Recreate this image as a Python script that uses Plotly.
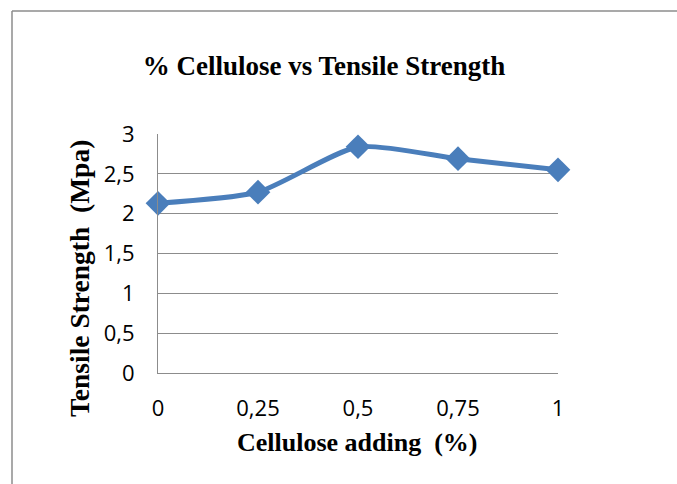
import plotly.graph_objects as go

cellulose = [0, 0.25, 0.5, 0.75, 1]
tensile = [2.13, 2.27, 2.84, 2.69, 2.55]
x_tickvals = [0, 0.25, 0.5, 0.75, 1]
x_ticktext = ["0", "0,25", "0,5", "0,75", "1"]
y_tickvals = [0, 0.5, 1, 1.5, 2, 2.5, 3]
y_ticktext = ["0", "0,5", "1", "1,5", "2", "2,5", "3"]

line_color = "#4A7EBB"

fig = go.Figure()
fig.add_trace(go.Scatter(
    x=cellulose, y=tensile, mode="lines+markers",
    line=dict(color=line_color, width=5, shape="spline", smoothing=0.6),
    marker=dict(symbol="diamond", size=19, color=line_color),
    cliponaxis=False, showlegend=False,
))

W, H = 677, 484
L, R, T, B = 158, 558, 134, 373
pw, ph = R - L, B - T

def px(xp):
    return (xp - L) / pw

def py(yp):
    return (B - yp) / ph

fig.update_layout(
    width=W, height=H,
    margin=dict(l=L, r=W - R, t=T, b=H - B, pad=0),
    paper_bgcolor="white", plot_bgcolor="white",
    title=dict(text="<b>% Cellulose vs Tensile Strength</b>",
               x=324 / W, xanchor="center", y=1 - 66 / H, yanchor="middle",
               font=dict(family="Liberation Serif", size=27, color="black")),
    xaxis=dict(range=[0, 1], tickvals=x_tickvals, ticktext=x_ticktext,
               showgrid=False, zeroline=False, showline=True, linecolor="#8c8c8c", linewidth=1,
               ticks="outside", ticklen=16, tickcolor="rgba(0,0,0,0)",
               tickfont=dict(family="Open Sans", size=22, color="black")),
    yaxis=dict(range=[0, 3], tickvals=y_tickvals, ticktext=y_ticktext,
               showgrid=True, gridcolor="#8c8c8c", gridwidth=1, zeroline=False,
               showline=True, linecolor="#8c8c8c", linewidth=1,
               ticks="outside", ticklen=18, tickcolor="rgba(0,0,0,0)",
               tickfont=dict(family="Open Sans", size=22, color="black")),
    annotations=[
        dict(text="<b>Cellulose adding  (%)</b>", xref="paper", yref="paper",
             x=px(357), y=py(442), xanchor="center", yanchor="middle", showarrow=False,
             font=dict(family="Liberation Serif", size=26, color="black")),
        dict(text="<b>Tensile Strength  (Mpa)</b>", xref="paper", yref="paper",
             x=px(79), y=py(279), xanchor="center", yanchor="middle", showarrow=False,
             textangle=-90,
             font=dict(family="Liberation Serif", size=27.5, color="black")),
    ],
    shapes=[
        dict(type="line", xref="paper", yref="paper", x0=px(12), x1=px(700), y0=py(11), y1=py(11),
             line=dict(color="#8c8c8c", width=1.5)),
        dict(type="line", xref="paper", yref="paper", x0=px(12), x1=px(12), y0=py(11), y1=py(500),
             line=dict(color="#8c8c8c", width=1.5)),
    ],
)

fig.write_html("out.html", config={"displayModeBar": False},
               post_script="document.body.style.margin='0';document.body.style.overflow='hidden';")
